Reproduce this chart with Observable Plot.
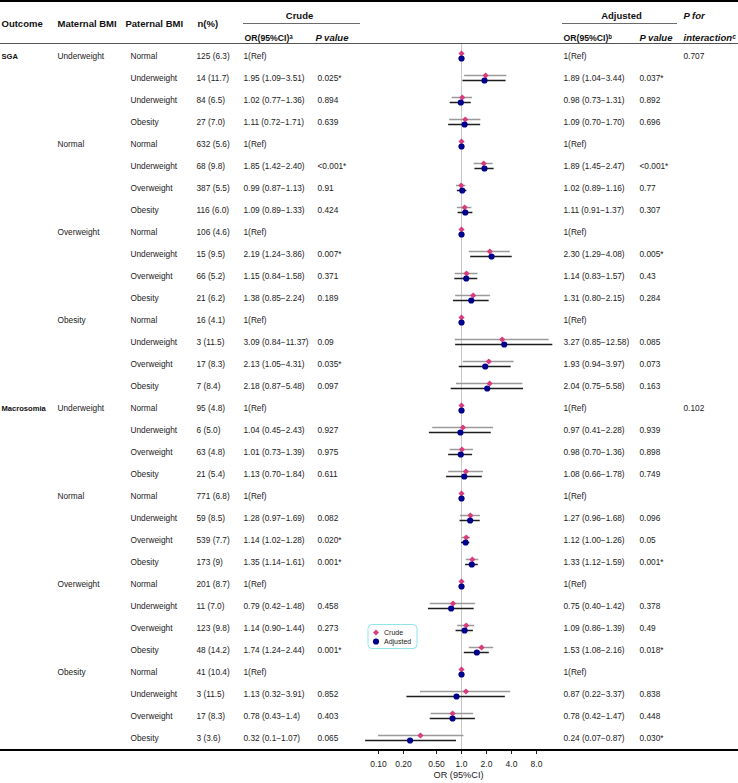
<!DOCTYPE html>
<html><head><meta charset="utf-8">
<script src="https://cdn.jsdelivr.net/npm/d3@7"></script>
<script src="https://cdn.jsdelivr.net/npm/@observablehq/plot@0.6"></script>
<style>
html,body{margin:0;padding:0;background:#fff;}
#chart svg{display:block;}
</style></head><body><div id="chart"></div>
<script>
// ---------------- data ----------------
const outcomes = ["SGA", "Macrosomia"];
const maternalGroups = ["Underweight", "Normal", "Overweight", "Obesity"];
const paternal = [
  "Normal","Underweight","Underweight","Obesity",
  "Normal","Underweight","Overweight","Obesity",
  "Normal","Underweight","Overweight","Obesity",
  "Normal","Underweight","Overweight","Obesity",
  "Normal","Underweight","Overweight","Obesity",
  "Normal","Underweight","Overweight","Obesity",
  "Normal","Underweight","Overweight","Obesity",
  "Normal","Underweight","Overweight","Obesity"
];
const nPct = [
  "125 (6.3)","14 (11.7)","84 (6.5)","27 (7.0)",
  "632 (5.6)","68 (9.8)","387 (5.5)","116 (6.0)",
  "106 (4.6)","15 (9.5)","66 (5.2)","21 (6.2)",
  "16 (4.1)","3 (11.5)","17 (8.3)","7 (8.4)",
  "95 (4.8)","6 (5.0)","63 (4.8)","21 (5.4)",
  "771 (6.8)","59 (8.5)","539 (7.7)","173 (9)",
  "201 (8.7)","11 (7.0)","123 (9.8)","48 (14.2)",
  "41 (10.4)","3 (11.5)","17 (8.3)","3 (3.6)"
];
// null = reference group
const crudeOR = [null,"1.95","1.02","1.11", null,"1.85","0.99","1.09", null,"2.19","1.15","1.38", null,"3.09","2.13","2.18",
                 null,"1.04","1.01","1.13", null,"1.28","1.14","1.35", null,"0.79","1.14","1.74", null,"1.13","0.78","0.32"];
const crudeLo = [null,"1.09","0.77","0.72", null,"1.42","0.87","0.89", null,"1.24","0.84","0.85", null,"0.84","1.05","0.87",
                 null,"0.45","0.73","0.70", null,"0.97","1.02","1.14", null,"0.42","0.90","1.24", null,"0.32","0.43","0.1"];
const crudeHi = [null,"3.51","1.36","1.71", null,"2.40","1.13","1.33", null,"3.86","1.58","2.24", null,"11.37","4.31","5.48",
                 null,"2.43","1.39","1.84", null,"1.69","1.28","1.61", null,"1.48","1.44","2.44", null,"3.91","1.4","1.07"];
const crudeP = ["","0.025*","0.894","0.639", "","<0.001*","0.91","0.424", "","0.007*","0.371","0.189", "","0.09","0.035*","0.097",
                "","0.927","0.975","0.611", "","0.082","0.020*","0.001*", "","0.458","0.273","0.001*", "","0.852","0.403","0.065"];
const adjOR = [null,"1.89","0.98","1.09", null,"1.89","1.02","1.11", null,"2.30","1.14","1.31", null,"3.27","1.93","2.04",
               null,"0.97","0.98","1.08", null,"1.27","1.12","1.33", null,"0.75","1.09","1.53", null,"0.87","0.78","0.24"];
const adjLo = [null,"1.04","0.73","0.70", null,"1.45","0.89","0.91", null,"1.29","0.83","0.80", null,"0.85","0.94","0.75",
               null,"0.41","0.70","0.66", null,"0.96","1.00","1.12", null,"0.40","0.86","1.08", null,"0.22","0.42","0.07"];
const adjHi = [null,"3.44","1.31","1.70", null,"2.47","1.16","1.37", null,"4.08","1.57","2.15", null,"12.58","3.97","5.58",
               null,"2.28","1.36","1.78", null,"1.68","1.26","1.59", null,"1.42","1.39","2.16", null,"3.37","1.47","0.87"];
const adjP = ["","0.037*","0.892","0.696", "","<0.001*","0.77","0.307", "","0.005*","0.43","0.284", "","0.085","0.073","0.163",
              "","0.939","0.898","0.749", "","0.096","0.05","0.001*", "","0.378","0.49","0.018*", "","0.838","0.448","0.030*"];
const pInteraction = ["0.707", "0.102"];
const tickValues = [0.1, 0.2, 0.5, 1, 2, 4, 8];
const tickLabels = ["0.10", "0.20", "0.50", "1.0", "2.0", "4.0", "8.0"];
const axisTitle = "OR (95%CI)";
const seriesNames = ["Crude", "Adjusted"];

// ---------------- table ----------------
const DASH = "\u2212";
const rows = paternal.map((p, i) => {
  const ref = crudeOR[i] === null;
  return {
    i,
    outcome: i % 16 === 0 ? outcomes[i / 16] : "",
    maternal: i % 4 === 0 ? maternalGroups[(i / 4) % 4] : "",
    paternal: p,
    n: nPct[i],
    cLab: ref ? "1(Ref)" : `${crudeOR[i]} (${crudeLo[i]}${DASH}${crudeHi[i]})`,
    cP: crudeP[i],
    aLab: adjOR[i] === null ? "1(Ref)" : `${adjOR[i]} (${adjLo[i]}${DASH}${adjHi[i]})`,
    aP: adjP[i],
    inter: i % 16 === 0 ? pInteraction[i / 16] : "",
    c: ref ? 1 : +crudeOR[i], cl: ref ? null : +crudeLo[i], ch: ref ? null : +crudeHi[i],
    a: adjOR[i] === null ? 1 : +adjOR[i], al: adjOR[i] === null ? null : +adjLo[i], ah: adjOR[i] === null ? null : +adjHi[i],
    ref
  };
});
const ciRows = rows.filter(d => !d.ref);
const ticks = tickValues.map((v, k) => ({v, label: tickLabels[k]}));

const FS = 8.3, HFS = 9.5;
const TXT = "#222";
const col = {outcome: 1, maternal: 57, paternal: 130, n: 196, cOR: 243, cP: 317, aOR: 563, aP: 639, inter: 683};
const cell = (field, dx, extra = {}) => Plot.text(rows, {
  y: "i", text: field, frameAnchor: "left", dx, textAnchor: "start", fontSize: FS, fill: TXT, ...extra
});
const head = (label, dx, dy, extra = {}) => Plot.text([label], {
  text: d => d, frameAnchor: "top-left", dx, dy, textAnchor: "start",
  fontSize: HFS, fontWeight: "bold", fill: "#111", ...extra
});

const CRUDE = "#d93b7c", ADJ = "#00008b";

const chart = Plot.plot({
  width: 738, height: 783,
  marginTop: 0, marginLeft: 0, marginRight: 0, marginBottom: 33,
  style: {fontFamily: "'Liberation Sans', Arial, sans-serif", fontSize: "8.3px", background: "#fff", color: "#222"},
  x: {type: "log", domain: [0.1, 8], range: [378, 536], axis: null},
  y: {domain: [0, 31], range: [56, 738], axis: null},
  marks: [
    Plot.ruleX([1], {stroke: "#c8c8c8", strokeWidth: 1, insetTop: 44}),
    // headers
    head("Outcome", 1, 20),
    head("Maternal BMI", 57, 20),
    head("Paternal BMI", 125, 20),
    head("n(%)", 197, 20),
    head("Crude", 299, 12, {textAnchor: "middle"}),
    head("OR(95%CI)\u1d43", 244, 34, {fontSize: 8.7}),
    head("P value", 315, 34, {fontStyle: "italic"}),
    head("Adjusted", 621, 12, {textAnchor: "middle"}),
    head("OR(95%CI)\u1d47", 563, 34, {fontSize: 8.7}),
    head("P value", 639, 34, {fontStyle: "italic"}),
    head("P for", 683, 12, {fontStyle: "italic"}),
    head("interaction\u1d9c", 683, 34, {fontStyle: "italic"}),
    // table body
    cell("outcome", col.outcome, {fontWeight: "bold", fontSize: 7.6, fill: "#111"}),
    cell("maternal", col.maternal),
    cell("paternal", col.paternal),
    cell("n", col.n),
    cell("cLab", col.cOR),
    cell("cP", col.cP),
    cell("aLab", col.aOR),
    cell("aP", col.aP),
    cell("inter", col.inter),
    // forest
    Plot.ruleY(ciRows, {y: "i", x1: "cl", x2: "ch", dy: -3, stroke: "#9a9a9a", strokeWidth: 1.5}),
    Plot.ruleY(ciRows, {y: "i", x1: "al", x2: "ah", dy: 2, stroke: "#1e1e1e", strokeWidth: 1.5}),
    Plot.dot(rows, {y: "i", x: "c", dy: -3, symbol: "diamond2", r: 2.8, fill: CRUDE, stroke: "none"}),
    Plot.dot(rows, {y: "i", x: "a", dy: 2, symbol: "circle", r: 3.1, fill: ADJ, stroke: "none"}),
    // x axis
    Plot.ruleX(ticks, {x: "v", insetTop: 750, insetBottom: -4, stroke: "#222", strokeWidth: 1}),
    Plot.text(ticks, {x: "v", text: "label", frameAnchor: "bottom", dy: 16, fontSize: 8.5, fill: TXT}),
    Plot.text([{v: 1, t: axisTitle}], {x: "v", text: "t", frameAnchor: "bottom", dy: 27, dx: -3, fontSize: 9.2, fill: TXT})
  ]
});

// table rules and legend
const svg = d3.select(chart);
const line = (x1, x2, y, w, c) => svg.append("line").attr("x1", x1).attr("x2", x2).attr("y1", y).attr("y2", y)
  .attr("stroke", c).attr("stroke-width", w);
line(0, 738, 1, 2, "#000");
line(243, 360, 23.5, 0.8, "#444");
line(562, 677, 23.5, 0.8, "#444");
line(0, 738, 43.5, 1, "#555");
line(0, 738, 750, 2, "#000");

const lg = svg.append("g").attr("text-anchor", "start");
lg.append("rect").attr("x", 368).attr("y", 624.5).attr("width", 49).attr("height", 24).attr("rx", 4)
  .attr("fill", "#fff").attr("stroke", "#8fe4f0").attr("stroke-width", 1);
lg.append("path").attr("d", d3.symbol(d3.symbolDiamond2, 22)()).attr("transform", "translate(376,632.5)").attr("fill", CRUDE);
lg.append("path").attr("d", d3.symbol(d3.symbolCircle, 30)()).attr("transform", "translate(376,641.5)").attr("fill", ADJ);
lg.append("text").attr("x", 384).attr("y", 632.5).attr("dy", "0.32em").attr("font-size", 7).attr("text-anchor", "start").attr("fill", TXT).text(seriesNames[0]);
lg.append("text").attr("x", 384).attr("y", 641.5).attr("dy", "0.32em").attr("font-size", 7).attr("text-anchor", "start").attr("fill", TXT).text(seriesNames[1]);

document.getElementById("chart").append(chart);
</script>
</body></html>
